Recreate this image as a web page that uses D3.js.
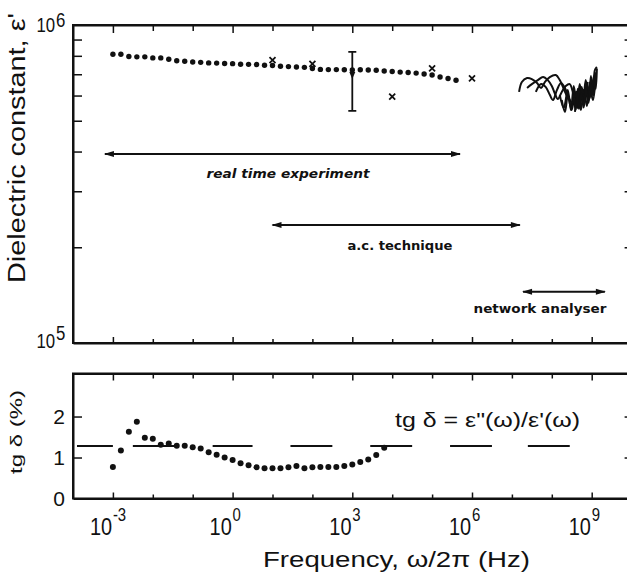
<!DOCTYPE html>
<html>
<head>
<meta charset="utf-8">
<script src="https://cdn.jsdelivr.net/npm/d3@7"></script>
<style>
  body { margin: 0; background: #fff; }
  svg { display: block; }
  text { font-family: "Liberation Sans", Arial, sans-serif; fill: #111; }
  .note { font-family: "DejaVu Sans", sans-serif; font-weight: bold; }
</style>
</head>
<body>
<svg id="chart" width="627" height="579"></svg>
<script>
// eps' (units of 1e5) vs log10 frequency, filled dots
var epsLogF = [-3.0,-2.8,-2.6,-2.4,-2.2,-2.0,-1.8,-1.6,-1.4,-1.2,-1.0,-0.8,-0.6,-0.4,-0.2,0.0,0.2,0.4,0.6,0.8,
               1.0,1.2,1.4,1.6,1.8,2.0,2.2,2.4,2.6,2.8,3.0,3.2,3.4,3.6,3.8,4.0,4.2,4.4,4.6,4.8,5.0,5.2,5.4,5.6];
var epsVals = [8.09,8.09,7.96,7.94,7.94,7.88,7.88,7.80,7.72,7.69,7.65,7.63,7.60,7.59,7.57,7.56,7.53,7.52,7.51,7.47,
               7.46,7.42,7.40,7.38,7.36,7.30,7.25,7.24,7.24,7.23,7.22,7.23,7.22,7.21,7.17,7.14,7.11,7.09,7.06,7.01,
               6.96,6.86,6.79,6.70];

// crosses
var crossLogF = [1, 2, 4, 5, 6];
var crossEps = [7.76, 7.55, 5.95, 7.31, 6.80];

// error bar at 1 kHz
var errLogF = 3.0, errLow = 5.37, errHigh = 8.23;

// network analyser sweeps
var sweepLogF = [
  [7.18,7.25,7.38,7.50,7.63,7.73,7.83,7.95,8.10,8.20,8.30,8.38,8.45],
  [7.38,7.50,7.65,7.78,7.90,8.00,8.08,8.15,8.25,8.35,8.45,8.55,8.65],
  [7.60,7.73,7.85,7.95,8.03,8.13,8.23,8.33,8.43,8.53,8.63,8.73,8.83,8.90],
  [8.20,8.30,8.40,8.48,8.55,8.63,8.70,8.78,8.85,8.93,8.98,9.03,9.08,9.13],
  [8.25,8.33,8.40,8.50,8.58,8.65,8.73,8.80,8.88,8.95,9.00,9.05,9.10],
  [8.58,8.65,8.73,8.80,8.88,8.95,9.03,9.10],
  [8.55,8.60,8.65,8.70,8.75,8.80,8.85,8.90,8.95,9.00,9.05,9.10,9.13],
  [8.62,8.68,8.74,8.80,8.86,8.92,8.98,9.04,9.10]
];
var sweepEps = [
  [6.16,6.62,6.81,6.76,6.57,6.34,6.62,6.86,6.96,6.71,6.29,5.98,5.81],
  [6.34,6.52,6.71,6.86,6.71,6.43,6.07,5.85,6.16,6.43,6.52,6.03,5.73],
  [6.16,6.52,6.38,6.03,5.81,6.25,6.57,6.34,5.89,5.64,5.98,6.34,6.16,6.62],
  [6.03,5.48,6.25,5.40,6.43,5.56,6.52,5.64,6.71,5.81,6.91,6.07,7.22,7.38],
  [5.81,5.33,5.98,5.40,6.16,5.48,6.34,5.73,6.52,5.89,6.71,6.16,7.05],
  [5.33,6.07,5.40,6.25,5.56,6.43,5.81,6.81],
  [5.90,5.40,6.30,5.50,6.40,5.60,6.60,5.70,6.60,6.00,6.90,6.30,7.30],
  [6.20,5.45,6.10,5.50,6.30,5.70,6.50,6.00,7.10]
];

// technique ranges (log10 f) and their level (eps' in 1e5)
var rangeNames = ["real time experiment", "a.c. technique", "network analyser"];
var rangeLogF = [[-3.2, 5.7], [1.0, 7.2], [7.28, 9.33]];
var rangeEps = [3.93, 2.35, 1.45];

// loss tangent tg delta (%)
var lossLogF = [-3.0,-2.8,-2.6,-2.4,-2.2,-2.0,-1.8,-1.6,-1.4,-1.2,-1.0,-0.8,-0.6,-0.4,-0.2,0.0,0.2,0.4,0.6,0.8,
                1.0,1.2,1.4,1.6,1.8,2.0,2.2,2.4,2.6,2.8,3.0,3.2,3.4,3.6,3.8];
var lossVals = [0.77,1.17,1.63,1.87,1.48,1.46,1.31,1.34,1.29,1.29,1.25,1.22,1.13,1.07,1.00,0.94,0.86,0.81,0.76,0.74,
                0.74,0.74,0.76,0.79,0.74,0.76,0.77,0.77,0.77,0.79,0.83,0.89,0.95,1.06,1.24];
// dashed reference level
var refLoss = 1.28;
var refSegments = [[-3.9,-3.0],[-2.5,-1.45],[-0.5,0.5],[1.45,2.5],[3.45,4.5],[5.45,6.5],[7.4,8.45]];

var decadeTicks = [-3,-2,-1,0,1,2,3,4,5,6,7,8,9];
var labelTicks = [-3, 0, 3, 6, 9];
var epsMinor = [2,3,4,5,6,7,8,9];
var lossTicks = [1, 2];

var svg = d3.select("#chart");
var x = d3.scaleLog().domain([1e-4, 1e10]).range([73, 631.6]);
var yTop = d3.scaleLog().domain([1e5, 1e6]).range([343, 25]);
var yBot = d3.scaleLinear().domain([0, 3.05]).range([498.5, 373.5]);
var fx = function(l) { return x(Math.pow(10, l)); };
var fe = function(v) { return yTop(v * 1e5); };

function styleAxis(g) {
  g.select(".domain").attr("stroke", "#111").attr("stroke-width", 2);
  g.selectAll(".tick line").attr("stroke", "#111").attr("stroke-width", 1.5);
  g.selectAll(".tick text").remove();
}

// frequency ticks, longer at labelled decades
function freqAxis(gen, ypos, len, lenMajor) {
  var g = svg.append("g").attr("transform", "translate(0," + ypos + ")")
    .call(gen(x).tickValues(decadeTicks.map(function(d) { return Math.pow(10, d); }))
      .tickSize(-len).tickSizeOuter(0));
  styleAxis(g);
  g.selectAll(".tick line").attr("y2", function(d) {
    var l = Math.round(Math.log10(d));
    var s = labelTicks.indexOf(l) >= 0 ? lenMajor : len;
    return gen === d3.axisBottom ? -s : s;
  });
}

freqAxis(d3.axisTop, 25, 6, 8);
freqAxis(d3.axisBottom, 343, 4, 6);
freqAxis(d3.axisTop, 373.5, 5, 7);
freqAxis(d3.axisBottom, 498.5, 4, 6);

var gl = svg.append("g").attr("transform", "translate(73,0)")
  .call(d3.axisLeft(yTop).tickValues(epsMinor.map(function(d) { return d * 1e5; })).tickSize(-9).tickSizeOuter(0));
styleAxis(gl);
var gr = svg.append("g").attr("transform", "translate(631.6,0)")
  .call(d3.axisRight(yTop).tickValues(epsMinor.map(function(d) { return d * 1e5; })).tickSize(-7).tickSizeOuter(0));
styleAxis(gr);
var gl2 = svg.append("g").attr("transform", "translate(73,0)")
  .call(d3.axisLeft(yBot).tickValues(lossTicks).tickSize(-9).tickSizeOuter(0));
styleAxis(gl2);
var gr2 = svg.append("g").attr("transform", "translate(631.6,0)")
  .call(d3.axisRight(yBot).tickValues(lossTicks).tickSize(-7).tickSizeOuter(0));
styleAxis(gr2);

// power-of-ten labels, narrow lettering
function powLabel(px, py, exp, size, expSize, sx, rise) {
  var g = svg.append("g").attr("transform", "translate(" + px + "," + py + ") scale(" + sx + ",1)");
  g.append("text").attr("x", -1).attr("text-anchor", "end").style("font-size", size + "px").text("10");
  g.append("text").attr("x", 0).attr("y", -rise).style("font-size", expSize + "px").text(exp);
}

labelTicks.forEach(function(l) {
  powLabel(fx(l), 535, String(l), 24, 18, 0.83, 14);
});
powLabel(56, 32, "6", 21, 21, 0.8, 5);
powLabel(56, 348, "5", 21, 21, 0.8, 8);

lossTicks.concat([0]).forEach(function(v) {
  svg.append("text").attr("x", 65).attr("y", yBot(v) + 7.5)
    .attr("text-anchor", "end").style("font-size", "21px").text(v);
});

// axis titles
svg.append("text").attr("transform", "translate(25,148) rotate(-90)")
  .attr("text-anchor", "middle").attr("textLength", 270).attr("lengthAdjust", "spacingAndGlyphs")
  .style("font-size", "23px").text("Dielectric  constant,  \u03b5'");
svg.append("text").attr("transform", "translate(22,432) rotate(-90)")
  .attr("text-anchor", "middle").attr("textLength", 84).attr("lengthAdjust", "spacingAndGlyphs")
  .style("font-size", "17px").text("tg \u03b4 (%)");
svg.append("text").attr("x", 263).attr("y", 567)
  .attr("textLength", 267).attr("lengthAdjust", "spacingAndGlyphs")
  .style("font-size", "22px").text("Frequency,  \u03c9/2\u03c0 (Hz)");
svg.append("text").attr("x", 395).attr("y", 427)
  .attr("textLength", 185).attr("lengthAdjust", "spacingAndGlyphs")
  .style("font-size", "20px").text("tg \u03b4 =  \u03b5\"(\u03c9)/\u03b5'(\u03c9)");

// arrows
var defs = svg.append("defs");
defs.append("marker").attr("id", "ah").attr("viewBox", "0 -4 10 8")
  .attr("refX", 9).attr("refY", 0).attr("markerUnits", "userSpaceOnUse")
  .attr("markerWidth", 11).attr("markerHeight", 8).attr("orient", "auto-start-reverse")
  .append("path").attr("d", "M0,-3L10,0L0,3Z").attr("fill", "#111");

var textLayout = [
  { cx: 288, dy: 24, len: 163, style: "italic" },
  { cx: 400, dy: 25, len: 105, style: "normal" },
  { cx: 540, dy: 21, len: 133, style: "normal" }
];
rangeNames.forEach(function(name, i) {
  var yy = fe(rangeEps[i]);
  svg.append("line")
    .attr("x1", fx(rangeLogF[i][0])).attr("x2", fx(rangeLogF[i][1]))
    .attr("y1", yy).attr("y2", yy)
    .attr("stroke", "#111").attr("stroke-width", 2)
    .attr("marker-start", "url(#ah)").attr("marker-end", "url(#ah)");
  var t = textLayout[i];
  svg.append("text").attr("class", "note")
    .attr("x", t.cx - t.len / 2).attr("y", yy + t.dy)
    .attr("textLength", t.len).attr("lengthAdjust", "spacingAndGlyphs")
    .style("font-size", "13px").style("font-style", t.style).text(name);
});

// dielectric constant dots
svg.append("g").selectAll("circle").data(epsLogF).enter().append("circle")
  .attr("cx", function(d) { return fx(d); })
  .attr("cy", function(d, i) { return fe(epsVals[i]); })
  .attr("r", 2.7).attr("fill", "#111");

// crosses
svg.append("g").selectAll("path").data(crossLogF).enter().append("path")
  .attr("transform", function(d, i) { return "translate(" + fx(d) + "," + fe(crossEps[i]) + ")"; })
  .attr("d", "M-3,-3L3,3M-3,3L3,-3")
  .attr("stroke", "#111").attr("stroke-width", 1.8);

// error bar
var ex = fx(errLogF);
svg.append("path")
  .attr("d", "M" + (ex - 4) + "," + fe(errHigh) + "H" + (ex + 4) +
             "M" + ex + "," + fe(errHigh) + "V" + fe(errLow) +
             "M" + (ex - 4) + "," + fe(errLow) + "H" + (ex + 4))
  .attr("stroke", "#111").attr("stroke-width", 1.8).attr("fill", "none");
svg.append("path")
  .attr("d", "M" + (ex - 3) + "," + (fe(errHigh) + 20) + "L" + (ex + 3) + "," + (fe(errHigh) + 20) + "L" + ex + "," + (fe(errHigh) + 27) + "Z")
  .attr("fill", "#111");

// network analyser sweeps
var sweepLine = d3.line().curve(d3.curveCatmullRom)
  .x(function(d) { return fx(d[0]); })
  .y(function(d) { return fe(d[1]); });
sweepLogF.forEach(function(lf, k) {
  svg.append("path")
    .datum(lf.map(function(v, i) { return [v, sweepEps[k][i]]; }))
    .attr("d", sweepLine)
    .attr("fill", "none").attr("stroke", "#111").attr("stroke-width", 2);
});

// tg delta reference dashes
svg.append("g").selectAll("line").data(refSegments).enter().append("line")
  .attr("x1", function(d) { return fx(d[0]); })
  .attr("x2", function(d) { return fx(d[1]); })
  .attr("y1", yBot(refLoss)).attr("y2", yBot(refLoss))
  .attr("stroke", "#111").attr("stroke-width", 2);

// tg delta dots
svg.append("g").selectAll("circle").data(lossLogF).enter().append("circle")
  .attr("cx", function(d) { return fx(d); })
  .attr("cy", function(d, i) { return yBot(lossVals[i]); })
  .attr("r", 3).attr("fill", "#111");

// frames
[[25, 343], [373.5, 498.5]].forEach(function(b) {
  svg.append("path")
    .attr("d", "M631.6," + b[0] + "H73V" + b[1] + "H631.6V" + b[0])
    .attr("fill", "none").attr("stroke", "#111").attr("stroke-width", 2);
});
</script>
</body>
</html>
